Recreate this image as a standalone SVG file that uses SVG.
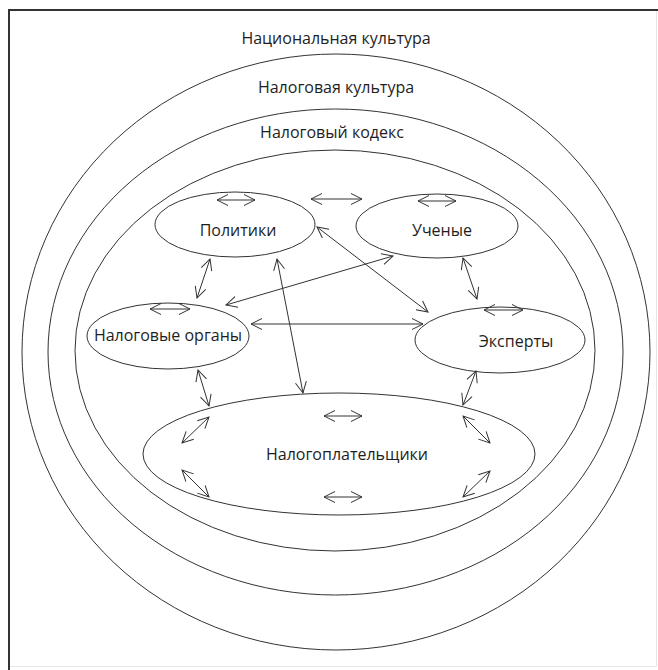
<svg xmlns="http://www.w3.org/2000/svg" width="658" height="670" viewBox="0 0 658 670">
<defs>
<marker id="ah" viewBox="0 0 13 13" refX="12" refY="6.5" markerWidth="13" markerHeight="13" markerUnits="userSpaceOnUse" orient="auto-start-reverse">
<path d="M1,1 L12,6.5 L1,12" fill="none" stroke="#333" stroke-width="1"/>
</marker>
<style>
.ring{fill:none;stroke:#333;stroke-width:1}
.node{fill:#fff;stroke:#333;stroke-width:1}
.lbl{font-family:"Open Sans","Noto Sans","Liberation Sans",sans-serif;font-size:16px;fill:#1e1e1e;text-anchor:middle;dominant-baseline:central}
.c{fill:none;stroke:#333;stroke-width:1;marker-start:url(#ah);marker-end:url(#ah)}
</style>
</defs>
<rect x="0" y="0" width="658" height="670" fill="#fff"/>
<rect x="8.5" y="10.5" width="648" height="656" fill="none" stroke="#e6e6e6" stroke-width="1"/>
<line x1="8" y1="10" x2="658" y2="10" stroke="#333" stroke-width="2"/>
<line x1="9" y1="10" x2="9" y2="670" stroke="#333" stroke-width="2"/>

<g id="ring-national">
<ellipse class="ring" cx="336" cy="352" rx="314" ry="298"/>
<text class="lbl" x="336" y="38">Национальная культура</text>
</g>
<g id="ring-taxculture">
<ellipse class="ring" cx="335.5" cy="352" rx="287.5" ry="243"/>
<text class="lbl" x="336" y="87">Налоговая культура</text>
</g>
<g id="ring-taxcode">
<ellipse class="ring" cx="335" cy="350.5" rx="260" ry="200.5"/>
<text class="lbl" x="332" y="132">Налоговый кодекс</text>
</g>

<g id="node-politics">
<ellipse class="node" cx="235" cy="224.5" rx="80" ry="32.5"/>
<text class="lbl" x="238" y="230">Политики</text>
</g>
<g id="node-scientists">
<ellipse class="node" cx="437" cy="226" rx="81" ry="32"/>
<text class="lbl" x="442" y="230">Ученые</text>
</g>
<g id="node-taxauthorities">
<ellipse class="node" cx="168" cy="336" rx="81" ry="33"/>
<text class="lbl" x="168" y="335">Налоговые органы</text>
</g>
<g id="node-experts">
<ellipse class="node" cx="500" cy="340" rx="85" ry="33"/>
<text class="lbl" x="516" y="341">Эксперты</text>
</g>
<g id="node-taxpayers">
<ellipse class="node" cx="339" cy="454" rx="196" ry="61"/>
<text class="lbl" x="347" y="454">Налогоплательщики</text>
</g>

<g id="connectors">
<line class="c" x1="217" y1="200" x2="255" y2="200"/>
<line class="c" x1="311" y1="199" x2="362" y2="199"/>
<line class="c" x1="418" y1="201" x2="456" y2="201"/>
<line class="c" x1="150" y1="309" x2="190" y2="309"/>
<line class="c" x1="484" y1="310" x2="523" y2="310"/>
<line class="c" x1="324" y1="416" x2="362" y2="416"/>
<line class="c" x1="324" y1="497" x2="362" y2="497"/>
<line class="c" x1="209" y1="417" x2="182" y2="443"/>
<line class="c" x1="182" y1="470" x2="209" y2="497"/>
<line class="c" x1="463" y1="416" x2="490" y2="443"/>
<line class="c" x1="490" y1="471" x2="463" y2="497"/>
<line class="c" x1="210" y1="259" x2="197" y2="298"/>
<line class="c" x1="463" y1="258" x2="477" y2="299"/>
<line class="c" x1="317" y1="227" x2="428" y2="312"/>
<line class="c" x1="393" y1="256" x2="226" y2="305"/>
<line class="c" x1="277" y1="259" x2="303" y2="393"/>
<line class="c" x1="251" y1="324" x2="423" y2="324"/>
<line class="c" x1="198" y1="370" x2="209" y2="406"/>
<line class="c" x1="476" y1="371" x2="463" y2="405"/>
</g>
</svg>
